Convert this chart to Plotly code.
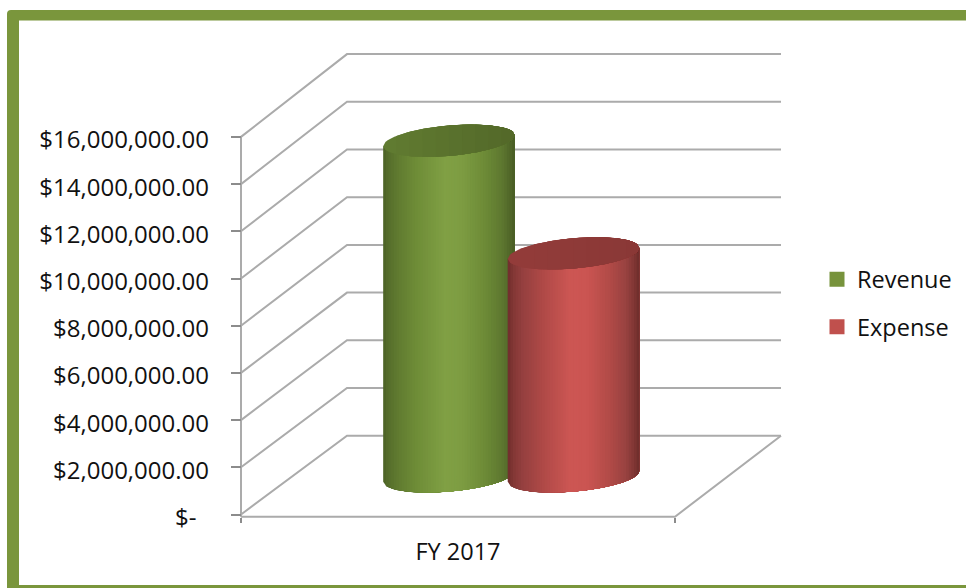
import numpy as np
import plotly.graph_objects as go

# ---- data ----
categories = ["FY 2017"]
series_names = ["Revenue", "Expense"]
revenue = [14150000]
expense = [9400000]
tick_values = [0, 2000000, 4000000, 6000000, 8000000, 10000000, 12000000, 14000000, 16000000]
tick_labels = ["$-\u00a0\u00a0", "$2,000,000.00", "$4,000,000.00", "$6,000,000.00", "$8,000,000.00",
               "$10,000,000.00", "$12,000,000.00", "$14,000,000.00", "$16,000,000.00"]

# ---- geometry of the oblique view ----
W, H = 966, 588
PX_X0, PX_XW = 241.0, 434.0        # front plane, pixels
PX_Y0, PX_PER_2M = 514.5, 47.2     # pixel of $0, pixels per 2M
DEPTH_PX_X, DEPTH_PX_Y = 106.0, 78.8
PERSPECTIVE = 0.0106               # back wall is this much taller than the front
x_unit = 1.0 / PX_XW
y_unit = 2e6 / PX_PER_2M
DX = DEPTH_PX_X * x_unit
DY = DEPTH_PX_Y * y_unit
FLOOR_DROP = 2.2 * y_unit
LABEL_DROP = 3.0 * y_unit          # labels sit a little below their ticks

xr = [(0 - PX_X0) * x_unit, (W - PX_X0) * x_unit]
yr = [(PX_Y0 - H) * y_unit, PX_Y0 * y_unit]

GRID = "#ABABAB"
LW = 2


def lift(v, depth):
    """Value axis position of value v at a depth between the front (0) and back (1) wall."""
    return v + depth * (DY + v * PERSPECTIVE)


# cylinders
CYL_DEPTH = 0.484
CYL_POS = [0.361, 0.648]
CYL_HALF = 65.8 * x_unit
SHEAR = 5.5 * y_unit        # rise of the right edge of an ellipse
MINOR = 15.2 * y_unit       # half height of an ellipse

body_stops = [0.0, 0.04, 0.12, 0.25, 0.47, 0.60, 0.78, 0.90, 0.97, 1.0]
green_body = ["#4C6226", "#566E2B", "#617C31", "#6E8C37", "#80A044", "#7D9C42", "#6C8A36", "#5E7830", "#4F6528", "#475B23"]
red_body = ["#6E2D2B", "#823735", "#964040", "#AC4846", "#CC5653", "#CB5552", "#B04A47", "#984240", "#7C3432", "#6C2C2A"]
green_top = ["#617C31", "#536829"]
red_top = ["#933C3A", "#8A3836"]
swatch_colors = ["#77933C", "#C0504D"]


def hex2rgb(c):
    return np.array([int(c[i:i + 2], 16) for i in (1, 3, 5)], float)


def ramp(stops, colors, t):
    rgb = [np.interp(t, stops, [hex2rgb(c)[k] for c in colors]) for k in range(3)]
    return "rgb(%d,%d,%d)" % tuple(int(round(v)) for v in rgb)


fig = go.Figure()


def line(xs, ys, width=LW):
    fig.add_trace(go.Scatter(x=xs, y=ys, mode="lines", line=dict(color=GRID, width=width),
                             showlegend=False, hoverinfo="skip"))


# walls and floor
for v in tick_values:
    line([0, DX, 1 + DX], [v, lift(v, 1), lift(v, 1)])
line([0, 0], [tick_values[0] - FLOOR_DROP, tick_values[-1]])
line([0, 1, 1 + DX], [-FLOOR_DROP, -FLOOR_DROP, lift(0, 1)])


def poly(xs, ys, color):
    fig.add_trace(go.Scatter(x=xs, y=ys, mode="lines", fill="toself", fillcolor=color,
                             line=dict(width=0, color=color), showlegend=False, hoverinfo="skip"))


def cylinder(pos, value, body, top):
    cx = pos + CYL_DEPTH * DX
    base = lift(0, CYL_DEPTH)
    level = lift(value, CYL_DEPTH)
    n = 50
    # body: each strip runs to the right edge, painted left to right
    for i in range(n):
        c0 = -1 + 2 * i / n
        cs = np.linspace(c0, 1, 40)
        xs = cx + CYL_HALF * cs
        mid_top = level + SHEAR * cs
        arc = base + SHEAR * cs - MINOR * np.sqrt(np.clip(1 - cs ** 2, 0, 1))
        poly(np.r_[xs, xs[::-1]], np.r_[mid_top, arc[::-1]],
             ramp(body_stops, body, (i + 0.5) / n))
    # top ellipse
    m = 10
    for i in range(m):
        c0 = -1 + 2 * i / m
        cs = np.linspace(-1, 1, 60)
        cs = np.r_[c0, cs[cs > c0]]
        xs = cx + CYL_HALF * cs
        half = MINOR * np.sqrt(np.clip(1 - cs ** 2, 0, 1))
        up = level + SHEAR * cs + half
        dn = level + SHEAR * cs - half
        poly(np.r_[xs, xs[::-1]], np.r_[up, dn[::-1]],
             ramp([0, 1], top, (i + 0.5) / m))


cylinder(CYL_POS[0], revenue[0], green_body, green_top)
cylinder(CYL_POS[1], expense[0], red_body, red_top)

# legend entries
for name, col in zip(series_names, swatch_colors):
    fig.add_trace(go.Scatter(x=[None], y=[None], mode="markers", name=name, legendgroup=name,
                             marker=dict(symbol="square", size=15, color=col)))

# frame
fl, ft, il, it, ib = 7 / W, 1 - 10 / H, 19 / W, 1 - 20.5 / H, 1 - 585 / H
rx, ry = 4 / W, 4 / H
frame = (f"M {fl},0 L {fl},{ft - ry} Q {fl},{ft} {fl + rx},{ft} L 1,{ft} L 1,{it} "
         f"L {il},{it} L {il},{ib} L 1,{ib} L 1,0 Z")
fig.add_shape(type="path", path=frame, xref="paper", yref="paper",
              fillcolor="#7A963C", line=dict(width=0), layer="below")

FONT = "Open Sans, Noto Sans, sans-serif"
fig.update_layout(
    width=W, height=H, autosize=False,
    margin=dict(l=0, r=0, t=0, b=0),
    paper_bgcolor="white", plot_bgcolor="rgba(0,0,0,0)",
    font=dict(family=FONT, size=23.5, color="#111111"),
    xaxis=dict(range=xr, domain=[0, 1], anchor="free", position=(H - 516.7) / H,
               tickmode="array", tickvals=[0.5], ticktext=categories, ticks="", ticklen=0,
               ticklabelstandoff=19, showgrid=False, zeroline=False, showline=False,
               minor=dict(tickmode="array", tickvals=[0, 1], ticks="outside", ticklen=5,
                          tickwidth=1.5, tickcolor="#8C8C8C", showgrid=False)),
    yaxis=dict(range=yr, domain=[0, 1], anchor="free", position=PX_X0 / W,
               tickmode="array", tickvals=[v - LABEL_DROP for v in tick_values], ticktext=tick_labels,
               tickfont=dict(size=24), ticks="", ticklen=0,
               ticklabelstandoff=32, showgrid=False, zeroline=False, showline=False,
               minor=dict(tickmode="array", tickvals=tick_values, ticks="outside", ticklen=10,
                          tickwidth=1.5, tickcolor="#8C8C8C", showgrid=False)),
    legend=dict(x=817 / W, y=1 - 257.5 / H, xanchor="left", yanchor="top",
                bgcolor="rgba(0,0,0,0)", borderwidth=0, itemsizing="trace",
                tracegroupgap=14, traceorder="grouped"),
    showlegend=True,
)

fig.write_html("out.html", config=dict(displayModeBar=False),
               post_script="document.body.style.margin='0';document.documentElement.style.overflow='hidden';")
